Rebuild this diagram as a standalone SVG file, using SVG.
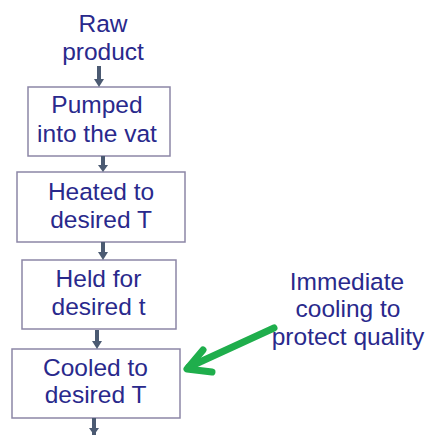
<svg xmlns="http://www.w3.org/2000/svg" width="426" height="435" viewBox="0 0 426 435">
<defs>
<style>
.t{font-family:"Liberation Sans",Arial,sans-serif;font-size:24.5px;fill:#29298c;text-anchor:middle}
.box{fill:#ffffff;stroke:#8c86a6;stroke-width:1.5}
.sh{stroke:#4b5a72;stroke-width:4;fill:none}
.hd{fill:#4b5a72}
</style>
</defs>
<rect width="426" height="435" fill="#ffffff"/>
<g id="raw"><text class="t" x="103" y="32">Raw</text><text class="t" x="103" y="60">product</text></g>
<g id="pumped"><rect class="box" x="28" y="87" width="142" height="69"/><text class="t" x="97" y="113">Pumped</text><text class="t" x="97" y="142">into the vat</text></g>
<g id="heated"><rect class="box" x="17" y="172" width="168" height="70"/><text class="t" x="101" y="200">Heated to</text><text class="t" x="101" y="228">desired T</text></g>
<g id="held"><rect class="box" x="22" y="260" width="154" height="69"/><text class="t" x="98.5" y="287">Held for</text><text class="t" x="98.5" y="315">desired t</text></g>
<g id="cooled"><rect class="box" x="12" y="349" width="168" height="69"/><text class="t" x="95.5" y="376">Cooled to</text><text class="t" x="95.5" y="403">desired T</text></g>
<g id="note"><text class="t" x="347" y="290">Immediate</text><text class="t" x="348" y="317">cooling to</text><text class="t" x="348" y="345">protect quality</text></g>
<g id="connectors">
<path class="sh" d="M99 66V80"/><path class="hd" d="M94 79H104L99 87Z"/>
<path class="sh" d="M103 156V166"/><path class="hd" d="M98 165H108L103 172Z"/>
<path class="sh" d="M103 242V253"/><path class="hd" d="M98 252H108L103 260Z"/>
<path class="sh" d="M97 330V342"/><path class="hd" d="M92 341H102L97 349Z"/>
<path class="sh" d="M94 418V435"/><path class="hd" d="M89 428H99L94 435Z"/>
<g stroke="#1fae4c" stroke-width="7" stroke-linecap="round" stroke-linejoin="round" fill="none">
<path d="M274 328L189 367"/><path d="M203 350L187 369L212 372"/>
</g>
</g>
</svg>
